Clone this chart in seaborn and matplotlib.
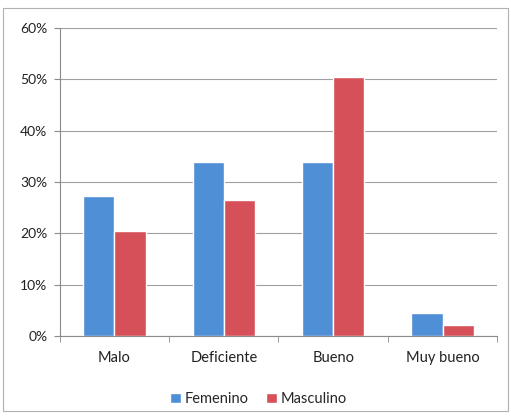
import pandas as pd
import matplotlib.pyplot as plt
import matplotlib.ticker as mticker
from matplotlib.patches import Rectangle
import seaborn as sns

# data (percent)
categorias = ["Malo", "Deficiente", "Bueno", "Muy bueno"]
femenino = [27.3, 33.9, 33.9, 4.5]
masculino = [20.5, 26.5, 50.5, 2.1]
series = ["Femenino", "Masculino"]
colores = ["#4F8FD6", "#D6505A"]

df = pd.DataFrame({
    "categoria": categorias * 2,
    "valor": femenino + masculino,
    "sexo": [series[0]] * 4 + [series[1]] * 4,
})

sns.set_style("white")
plt.rcParams["font.family"] = ["Lato", "DejaVu Sans"]

fig = plt.figure(figsize=(5.11, 4.19), dpi=100)
ax = fig.add_axes([0.117, 0.198, 0.856, 0.735])

sns.barplot(
    data=df,
    x="categoria",
    y="valor",
    hue="sexo",
    palette=colores,
    width=0.57,
    saturation=1,
    ax=ax,
)

ax.set_ylim(0, 60)
ax.set_xlim(-0.5, 3.5)
ax.yaxis.set_major_locator(mticker.MultipleLocator(10))
ax.yaxis.set_major_formatter(mticker.FuncFormatter(lambda v, p: f"{v:.0f}%"))
ax.grid(axis="y", color="#a0a0a0", linewidth=0.8)
ax.set_axisbelow(True)
ax.set_xlabel("")
ax.set_ylabel("")

for s in ["top", "right"]:
    ax.spines[s].set_visible(False)
for s in ["left", "bottom"]:
    ax.spines[s].set_color("#8a8a8a")
    ax.spines[s].set_linewidth(0.8)

# ticks between categories like Excel
ax.set_xticks([0, 1, 2, 3])
ax.set_xticks([-0.5, 0.5, 1.5, 2.5, 3.5], minor=True)
ax.tick_params(axis="x", which="major", length=0, pad=11, labelsize=10.5, colors="#222222")
ax.tick_params(axis="x", which="minor", length=4, color="#8a8a8a", bottom=True)
ax.tick_params(axis="y", length=4, color="#8a8a8a", left=True, labelsize=10,
               colors="#222222", pad=5)

leg = ax.legend(
    loc="upper center",
    bbox_to_anchor=(0.455, -0.14),
    ncol=2,
    frameon=False,
    fontsize=10.5,
    handlelength=0.7,
    handleheight=0.7,
    handletextpad=0.3,
    columnspacing=1.2,
)

fig.patches.append(Rectangle((0.006, 0.02), 0.988, 0.96, transform=fig.transFigure,
                             fill=False, edgecolor="#b0b0b0", linewidth=0.8))

plt.savefig("out.png", dpi=100)
plt.close()
